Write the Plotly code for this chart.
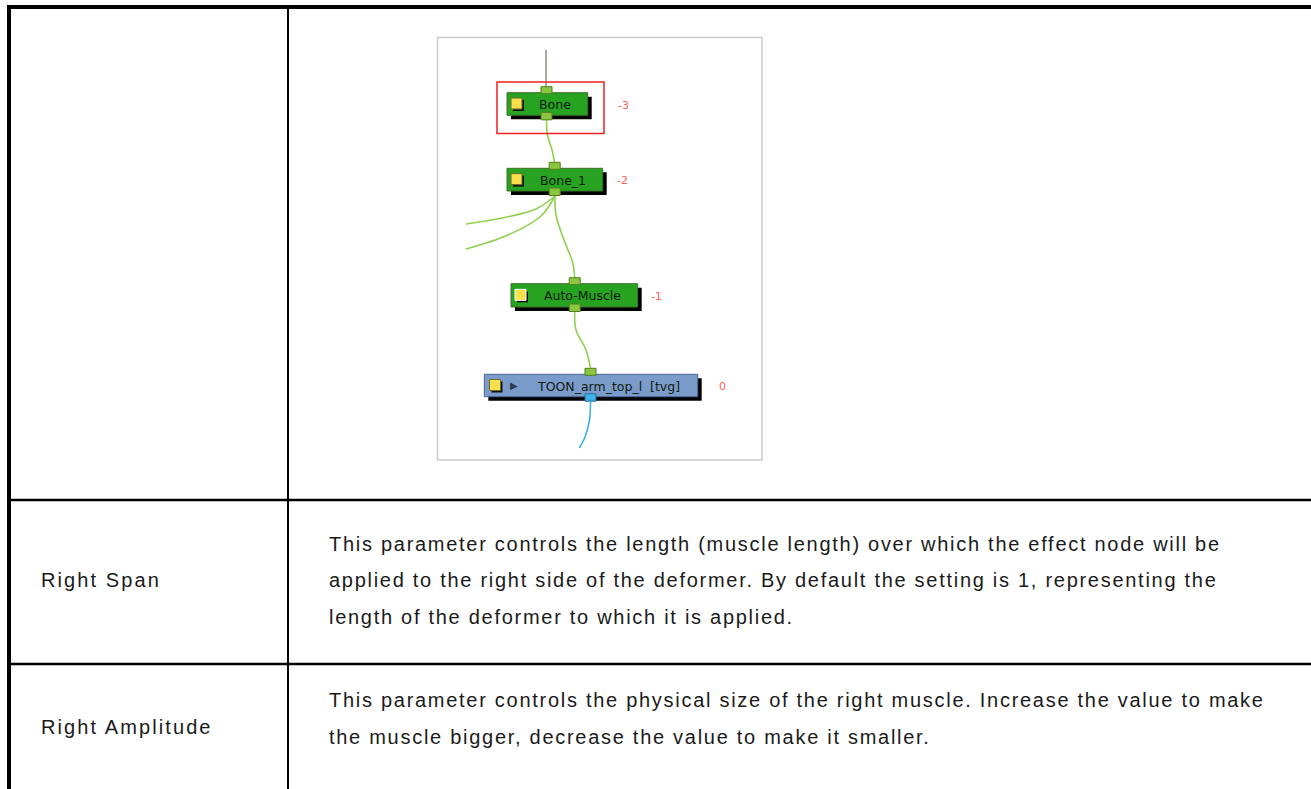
import plotly.graph_objects as go

# ---------------- data ----------------
param_names = ["Right Span", "Right Amplitude"]
param_descriptions = [
    ["This parameter controls the length (muscle length) over which the effect node will be",
     "applied to the right side of the deformer. By default the setting is 1, representing the",
     "length of the deformer to which it is applied."],
    ["This parameter controls the physical size of the right muscle. Increase the value to make",
     "the muscle bigger, decrease the value to make it smaller."],
]
node_names = ["Bone", "Bone_1", "Auto-Muscle", "TOON_arm_top_l  [tvg]"]
node_depths = ["-3", "-2", "-1", "0"]
node_kinds = ["bone", "bone", "effect", "drawing"]

# ---------------- layout constants (pixel space) ----------------
W, H = 1311, 789
TEXT_FONT = "Liberation Sans, Arial, sans-serif"
TEXT_COLOR = "#1a1a1a"
NODE_FONT = "DejaVu Sans, Tahoma, sans-serif"

node_boxes = [(507, 92.7, 587.7, 115.3), (507, 168.3, 602.7, 191.0),
              (511, 283.7, 637.7, 307.0), (484.3, 374.3, 697.7, 396.7)]
node_port_x = [546.5, 554.7, 574.7, 590.5]
node_text_x = [554.5, 563.0, 582.0, 608.0]
node_depth_x = [623, 622, 656, 722.5]
node_square_x = [511, 511, 515, 489.5]

row_text_y = [[544, 580, 617], [700, 737]]
name_y = [580, 727]

fig = go.Figure()
shapes = []
annotations = []
spacing = []

# ---- table grid ----
BLACK = "#000000"
shapes.append(dict(type="line", x0=7, x1=W + 5, y0=7, y1=7, line=dict(color=BLACK, width=4)))
shapes.append(dict(type="line", x0=9, x1=9, y0=5, y1=H + 5, line=dict(color=BLACK, width=4)))
shapes.append(dict(type="line", x0=288, x1=288, y0=7, y1=H + 5, line=dict(color=BLACK, width=2)))
for yy in (500, 664):
    shapes.append(dict(type="line", x0=9, x1=W + 5, y0=yy, y1=yy, line=dict(color=BLACK, width=2.5)))

# ---- table text ----
for i, name in enumerate(param_names):
    annotations.append(dict(x=39, y=name_y[i], text=name, showarrow=False, xanchor="left",
                            yanchor="middle", font=dict(family=TEXT_FONT, size=20, color=TEXT_COLOR)))
    spacing.append(2.1)
    for j, line in enumerate(param_descriptions[i]):
        annotations.append(dict(x=327, y=row_text_y[i][j], text=line, showarrow=False, xanchor="left",
                                yanchor="middle", font=dict(family=TEXT_FONT, size=20, color=TEXT_COLOR)))
        spacing.append(1.72)

# ---- diagram frame ----
shapes.append(dict(type="rect", x0=437.5, x1=762, y0=37.5, y1=460,
                   line=dict(color="#cccccc", width=1.5), fillcolor="white", layer="below"))

# ---- links ----
GREEN_LINK = "#8fd14f"
links = [
    ([546.5, 547.5, 552, 554.7], [120, 135, 150, 163], GREEN_LINK),
    ([555, 556, 564, 572.5, 574.7], [196, 215, 240, 262, 278], GREEN_LINK),
    ([555, 536, 502, 466], [196, 209, 218, 224], GREEN_LINK),
    ([555, 541, 508, 466], [196, 216, 235, 249], GREEN_LINK),
    ([574.7, 576, 586, 590.5], [312, 330, 350, 368], GREEN_LINK),
    ([590.5, 589.5, 585, 579.3], [402, 420, 437, 448], "#3fb0e8"),
]
for xs, ys, col in links:
    fig.add_trace(go.Scatter(x=xs, y=ys, mode="lines", line=dict(color=col, width=1.6, shape="spline"),
                             hoverinfo="skip", showlegend=False))
# top input stub
fig.add_trace(go.Scatter(x=[546, 546], y=[50, 88], mode="lines", line=dict(color="#667766", width=1.2),
                         hoverinfo="skip", showlegend=False))

# ---- selection rectangle ----
shapes.append(dict(type="rect", x0=497, x1=604, y0=82, y1=133.5, line=dict(color="#ee2222", width=1.5)))

# ---- nodes ----
fills = {"bone": ("#27a321", "#3d6e2a"), "effect": ("#27a321", "#3d6e2a"), "drawing": ("#7b9ccb", "#4a6590")}
for i, name in enumerate(node_names):
    x0, y0, x1, y1 = node_boxes[i]
    fill, edge = fills[node_kinds[i]]
    shapes.append(dict(type="rect", x0=x0 + 4, x1=x1 + 4, y0=y0 + 4, y1=y1 + 4,
                       line=dict(width=0), fillcolor="#000000"))
    shapes.append(dict(type="rect", x0=x0, x1=x1, y0=y0, y1=y1,
                       line=dict(color=edge, width=1), fillcolor=fill))
    sx = node_square_x[i]
    cy = (y0 + y1) / 2
    shapes.append(dict(type="rect", x0=sx + 2, x1=sx + 13, y0=cy - 4, y1=cy + 7,
                       line=dict(width=0), fillcolor="#111111"))
    sq_line = "#ffffff" if node_kinds[i] == "effect" else "#6b6b2a"
    shapes.append(dict(type="rect", x0=sx, x1=sx + 11, y0=cy - 6, y1=cy + 5,
                       line=dict(color=sq_line, width=1), fillcolor="#f7e04a"))
    px = node_port_x[i]
    shapes.append(dict(type="rect", x0=px - 5.5, x1=px + 5.5, y0=y0 - 6, y1=y0 + 1,
                       line=dict(color="#4f7f1f", width=1), fillcolor="#8cc63f"))
    bot_fill, bot_edge = ("#3fb0e8", "#2a6f99") if node_kinds[i] == "drawing" else ("#8cc63f", "#4f7f1f")
    shapes.append(dict(type="rect", x0=px - 5.5, x1=px + 5.5, y0=y1 - 3, y1=y1 + 4.5,
                       line=dict(color=bot_edge, width=1), fillcolor=bot_fill))
    annotations.append(dict(x=node_text_x[i], y=cy + 0.5, text=name, showarrow=False, xanchor="center",
                            yanchor="middle", font=dict(family=NODE_FONT, size=12.5, color="#0d1a0d")))
    annotations.append(dict(x=node_depth_x[i], y=cy + 1, text=node_depths[i], showarrow=False,
                            xanchor="center", yanchor="middle",
                            font=dict(family=NODE_FONT, size=11, color="#ff5a5a")))
    if node_kinds[i] == "drawing":
        annotations.append(dict(x=513.5, y=cy, text="▶", showarrow=False, xanchor="center",
                                yanchor="middle", font=dict(family=NODE_FONT, size=10, color="#2c3a52")))

fig.update_layout(
    width=W, height=H,
    margin=dict(l=0, r=0, t=0, b=0),
    paper_bgcolor="white", plot_bgcolor="white",
    xaxis=dict(range=[0, W], visible=False, fixedrange=True),
    yaxis=dict(range=[H, 0], visible=False, fixedrange=True),
    shapes=shapes, annotations=annotations, showlegend=False,
)

post = """
document.body.style.margin='0';
var gd = document.getElementById('{plot_id}');
var SP = %s;
function spaceText(){
  for (var k = 0; k < SP.length; k++) {
    var t = gd.querySelector('.annotation[data-index="' + k + '"] text');
    if (!t || t.getAttribute('data-sp')) { continue; }
    var bb = t.getBBox();
    t.setAttribute('text-anchor', 'start');
    t.setAttribute('x', bb.x);
    t.style.letterSpacing = SP[k] + 'px';
    t.setAttribute('data-sp', '1');
  }
}
spaceText();
if (gd && gd.on) { gd.on('plotly_afterplot', spaceText); }
setTimeout(spaceText, 50);
""" % str(spacing)

fig.write_html("out.html", config={"displayModeBar": False}, post_script=post)
